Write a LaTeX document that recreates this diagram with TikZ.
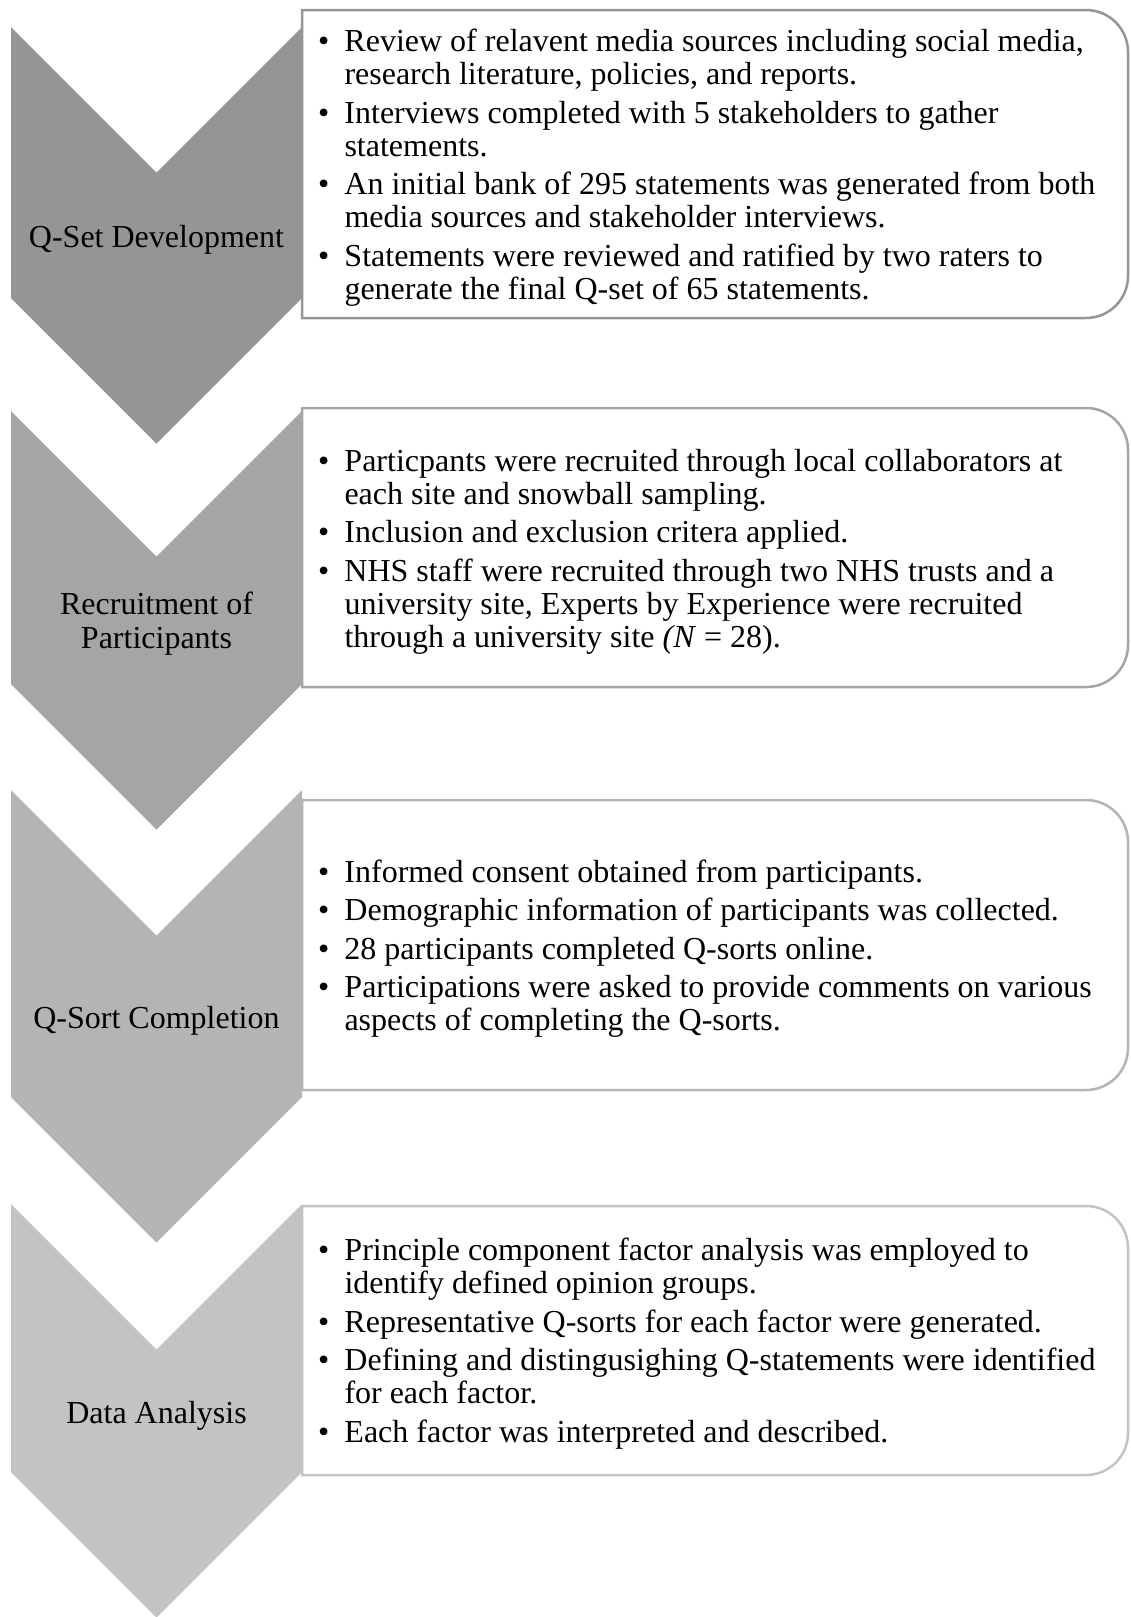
\documentclass[tikz,border=0pt]{standalone}
\usepackage{fontspec}
\setmainfont{Liberation Serif}
\definecolor{chevA}{HTML}{959595}
\definecolor{chevB}{HTML}{A5A5A5}
\definecolor{chevC}{HTML}{B4B4B4}
\definecolor{chevD}{HTML}{C3C3C3}

\begin{document}
\begin{tikzpicture}[x=0.5pt,y=-0.5pt,
    lbl/.style={align=center,inner sep=0pt,font=\fontsize{16pt}{17pt}\selectfont},
    itemtext/.style={anchor=west,inner sep=0pt,font=\fontsize{16pt}{16.5pt}\selectfont},
    stepbox/.style={line width=1.25pt,fill=white}]
  \useasboundingbox (0,0) rectangle (1130,1617);
  % boxes behind the chevrons
  \draw[stepbox,draw=chevA] (302,10) [rounded corners=21pt] -- (1128,10) -- (1128,318) [sharp corners] -- (302,318) -- cycle;
  \draw[stepbox,draw=chevB] (302,408) [rounded corners=21pt] -- (1128,408) -- (1128,687) [sharp corners] -- (302,687) -- cycle;
  \draw[stepbox,draw=chevC] (302,800) [rounded corners=21pt] -- (1128,800) -- (1128,1090) [sharp corners] -- (302,1090) -- cycle;
  \draw[stepbox,draw=chevD] (302,1206) [rounded corners=21pt] -- (1128,1206) -- (1128,1475) [sharp corners] -- (302,1475) -- cycle;
  % chevrons
  \fill[chevA] (11,27) -- (156.5,172.5) -- (302,27) -- (302,298) -- (156.5,443.5) -- (11,298) -- cycle;
  \fill[chevB] (11,411) -- (156.5,556.5) -- (302,411) -- (302,684) -- (156.5,829.5) -- (11,684) -- cycle;
  \fill[chevC] (11,790) -- (156.5,935.5) -- (302,790) -- (302,1097) -- (156.5,1242.5) -- (11,1097) -- cycle;
  \fill[chevD] (11,1204) -- (156.5,1349.5) -- (302,1204) -- (302,1472) -- (156.5,1617.5) -- (11,1472) -- cycle;
  % stage names
  \node[lbl] (qset) at (156.5,240) {Q-Set Development};
  \node[lbl] (recruit) at (156.5,624) {Recruitment of\\Participants};
  \node[lbl] (qsort) at (156.5,1021) {Q-Sort Completion};
  \node[lbl] (analysis) at (156.5,1416) {Data Analysis};
  % bullet texts
  \node[itemtext] (qsetitems) at (317.7,169) {\begin{tabular}{@{}p{13.2pt}@{}l@{}}
    \textbullet & Review of relavent media sources including social media,\\
                & research literature, policies, and reports.\\[2.75pt]
    \textbullet & Interviews completed with 5 stakeholders to gather\\
                & statements.\\[2.75pt]
    \textbullet & An initial bank of 295 statements was generated from both\\
                & media sources and stakeholder interviews.\\[2.75pt]
    \textbullet & Statements were reviewed and ratified by two raters to\\
                & generate the final Q-set of 65 statements.
  \end{tabular}};
  \node[itemtext] (recruititems) at (317.7,552.5) {\begin{tabular}{@{}p{13.2pt}@{}l@{}}
    \textbullet & Particpants were recruited through local collaborators at\\
                & each site and snowball sampling.\\[2.75pt]
    \textbullet & Inclusion and exclusion critera applied.\\[2.75pt]
    \textbullet & NHS staff were recruited through two NHS trusts and a\\
                & university site, Experts by Experience were recruited\\
                & through a university site \textit{(N} = 28).
  \end{tabular}};
  \node[itemtext] (qsortitems) at (317.7,950) {\begin{tabular}{@{}p{13.2pt}@{}l@{}}
    \textbullet & Informed consent obtained from participants.\\[2.75pt]
    \textbullet & Demographic information of participants was collected.\\[2.75pt]
    \textbullet & 28 participants completed Q-sorts online.\\[2.75pt]
    \textbullet & Participations were asked to provide comments on various\\
                & aspects of completing the Q-sorts.
  \end{tabular}};
  \node[itemtext] (analysisitems) at (317.7,1345) {\begin{tabular}{@{}p{13.2pt}@{}l@{}}
    \textbullet & Principle component factor analysis was employed to\\
                & identify defined opinion groups.\\[2.75pt]
    \textbullet & Representative Q-sorts for each factor were generated.\\[2.75pt]
    \textbullet & Defining and distingusighing Q-statements were identified\\
                & for each factor.\\[2.75pt]
    \textbullet & Each factor was interpreted and described.
  \end{tabular}};
\end{tikzpicture}
\end{document}
